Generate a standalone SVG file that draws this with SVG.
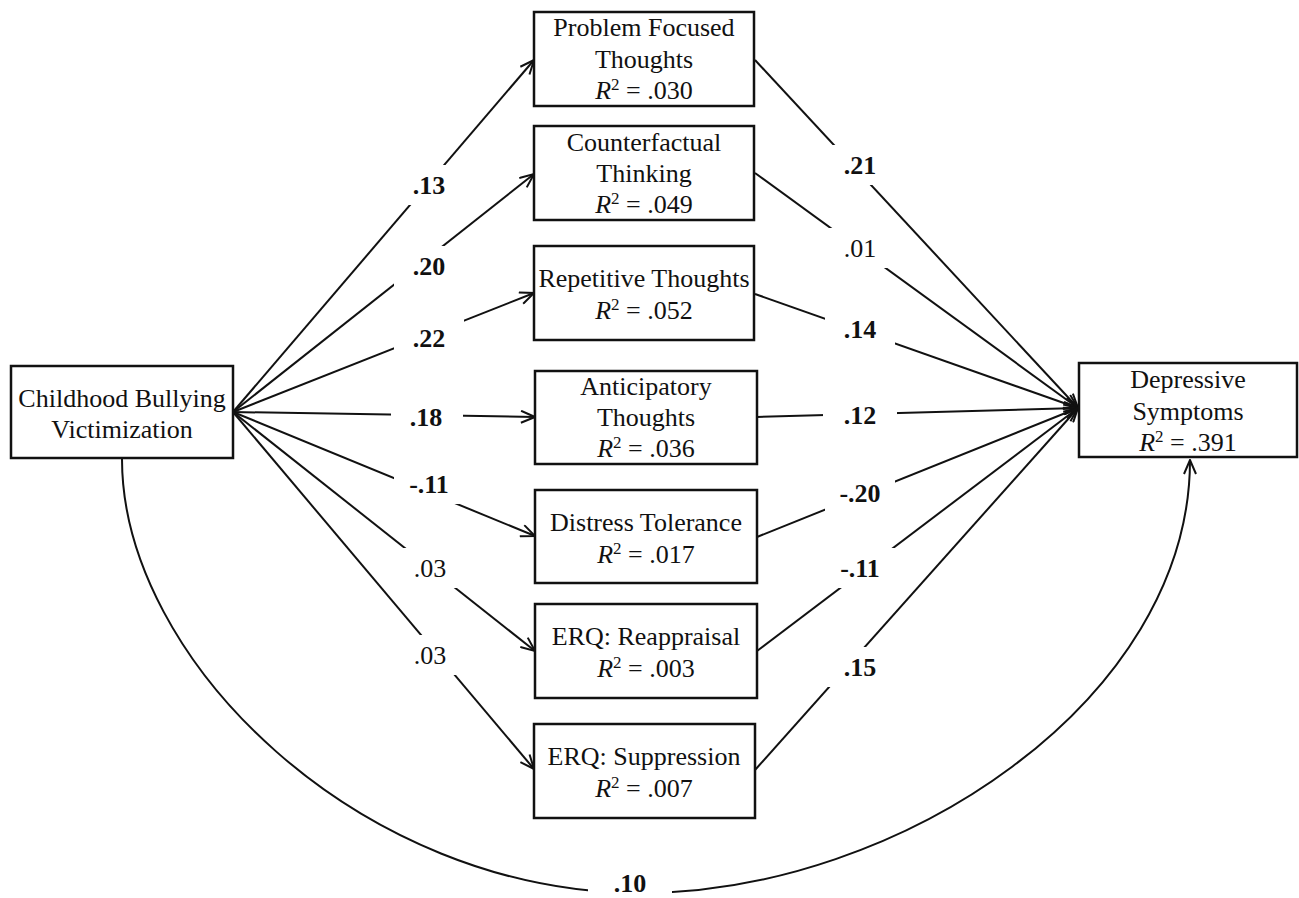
<svg xmlns="http://www.w3.org/2000/svg" width="1299" height="898" viewBox="0 0 1299 898">
<defs>
<style>
text{font-family:"Liberation Serif","Times New Roman",serif;font-size:26px;fill:#111;text-anchor:middle}
.box{fill:#fff;stroke:#111;stroke-width:2.5}
.ln{fill:none;stroke:#111;stroke-width:2}
.arr{marker-end:url(#arr)}
.b{font-weight:bold}
.bg{fill:#fff;stroke:none}
.i{font-style:italic}
.sup{font-size:17px}
</style>
<marker id="arr" viewBox="0 0 16 14" refX="15" refY="7" markerWidth="16" markerHeight="14" markerUnits="userSpaceOnUse" orient="auto">
<path d="M1,1 L15,7 L1,13" fill="none" stroke="#111" stroke-width="2"/>
</marker>
</defs>
<rect x="0" y="0" width="1299" height="898" fill="#fff"/>

<g id="connectors">
<line class="ln arr" x1="233" y1="412" x2="534" y2="60"/>
<line class="ln arr" x1="233" y1="412" x2="534" y2="174"/>
<line class="ln arr" x1="233" y1="412" x2="534" y2="293"/>
<line class="ln arr" x1="233" y1="412" x2="535" y2="417"/>
<line class="ln arr" x1="233" y1="412" x2="535" y2="536"/>
<line class="ln arr" x1="233" y1="412" x2="535" y2="651"/>
<line class="ln arr" x1="233" y1="412" x2="534" y2="769"/>
<line class="ln arr" x1="755" y1="60" x2="1078" y2="408"/>
<line class="ln arr" x1="755" y1="173" x2="1078" y2="408"/>
<line class="ln arr" x1="755" y1="294" x2="1078" y2="408"/>
<line class="ln arr" x1="757" y1="417" x2="1078" y2="408"/>
<line class="ln arr" x1="757" y1="537" x2="1078" y2="408"/>
<line class="ln arr" x1="757" y1="651" x2="1078" y2="408"/>
<line class="ln arr" x1="755" y1="770" x2="1078" y2="408"/>
<path class="ln arr" d="M122,459 C122,660 360,893 640,893 C900,893 1190,700 1190,460"/>
</g>

<g id="labels">
<rect class="bg" x="394" y="165" width="70" height="40"/><text class="b" x="429" y="194">.13</text>
<rect class="bg" x="394" y="246" width="70" height="40"/><text class="b" x="429" y="275">.20</text>
<rect class="bg" x="394" y="318" width="70" height="40"/><text class="b" x="429" y="347">.22</text>
<rect class="bg" x="391" y="397" width="72" height="40"/><text class="b" x="426" y="426">.18</text>
<rect class="bg" x="394" y="464" width="70" height="40"/><text class="b" x="429" y="493">-.11</text>
<rect class="bg" x="395" y="548" width="70" height="40"/><text x="430" y="577">.03</text>
<rect class="bg" x="395" y="635" width="70" height="40"/><text x="430" y="664">.03</text>
<rect class="bg" x="825" y="145" width="70" height="40"/><text class="b" x="860" y="174">.21</text>
<rect class="bg" x="825" y="228" width="70" height="40"/><text x="860" y="257">.01</text>
<rect class="bg" x="825" y="309" width="70" height="40"/><text class="b" x="860" y="338">.14</text>
<rect class="bg" x="823" y="395" width="74" height="40"/><text class="b" x="860" y="424">.12</text>
<rect class="bg" x="825" y="473" width="70" height="40"/><text class="b" x="860" y="502">-.20</text>
<rect class="bg" x="825" y="548" width="70" height="40"/><text class="b" x="860" y="577">-.11</text>
<rect class="bg" x="825" y="647" width="70" height="40"/><text class="b" x="860" y="676">.15</text>
<rect class="bg" x="588" y="868" width="84" height="30"/><text class="b" x="630" y="892">.10</text>
</g>

<g id="node-childhood">
<rect class="box" x="11" y="366" width="222" height="92"/>
<text x="122" y="407">Childhood Bullying</text>
<text x="122" y="438">Victimization</text>
</g>

<g id="node-problem">
<rect class="box" x="534" y="12" width="220" height="94"/>
<text x="644" y="36">Problem Focused</text>
<text x="644" y="68">Thoughts</text>
<text x="644" y="99"><tspan class="i">R</tspan><tspan class="sup" dy="-9">2</tspan><tspan dy="9"> = .030</tspan></text>
</g>

<g id="node-counterfactual">
<rect class="box" x="534" y="126" width="220" height="94"/>
<text x="644" y="151">Counterfactual</text>
<text x="644" y="182">Thinking</text>
<text x="644" y="213"><tspan class="i">R</tspan><tspan class="sup" dy="-9">2</tspan><tspan dy="9"> = .049</tspan></text>
</g>

<g id="node-repetitive">
<rect class="box" x="534" y="246" width="220" height="94"/>
<text x="644" y="287">Repetitive Thoughts</text>
<text x="644" y="319"><tspan class="i">R</tspan><tspan class="sup" dy="-9">2</tspan><tspan dy="9"> = .052</tspan></text>
</g>

<g id="node-anticipatory">
<rect class="box" x="535" y="371" width="222" height="93"/>
<text x="646" y="395">Anticipatory</text>
<text x="646" y="426">Thoughts</text>
<text x="646" y="457"><tspan class="i">R</tspan><tspan class="sup" dy="-9">2</tspan><tspan dy="9"> = .036</tspan></text>
</g>

<g id="node-distress">
<rect class="box" x="535" y="490" width="222" height="93"/>
<text x="646" y="531">Distress Tolerance</text>
<text x="646" y="563"><tspan class="i">R</tspan><tspan class="sup" dy="-9">2</tspan><tspan dy="9"> = .017</tspan></text>
</g>

<g id="node-reappraisal">
<rect class="box" x="535" y="604" width="222" height="94"/>
<text x="646" y="645">ERQ: Reappraisal</text>
<text x="646" y="677"><tspan class="i">R</tspan><tspan class="sup" dy="-9">2</tspan><tspan dy="9"> = .003</tspan></text>
</g>

<g id="node-suppression">
<rect class="box" x="534" y="724" width="221" height="94"/>
<text x="644" y="765">ERQ: Suppression</text>
<text x="644" y="797"><tspan class="i">R</tspan><tspan class="sup" dy="-9">2</tspan><tspan dy="9"> = .007</tspan></text>
</g>

<g id="node-depressive">
<rect class="box" x="1079" y="363" width="218" height="94"/>
<text x="1188" y="388">Depressive</text>
<text x="1188" y="420">Symptoms</text>
<text x="1188" y="451"><tspan class="i">R</tspan><tspan class="sup" dy="-9">2</tspan><tspan dy="9"> = .391</tspan></text>
</g>
</svg>
